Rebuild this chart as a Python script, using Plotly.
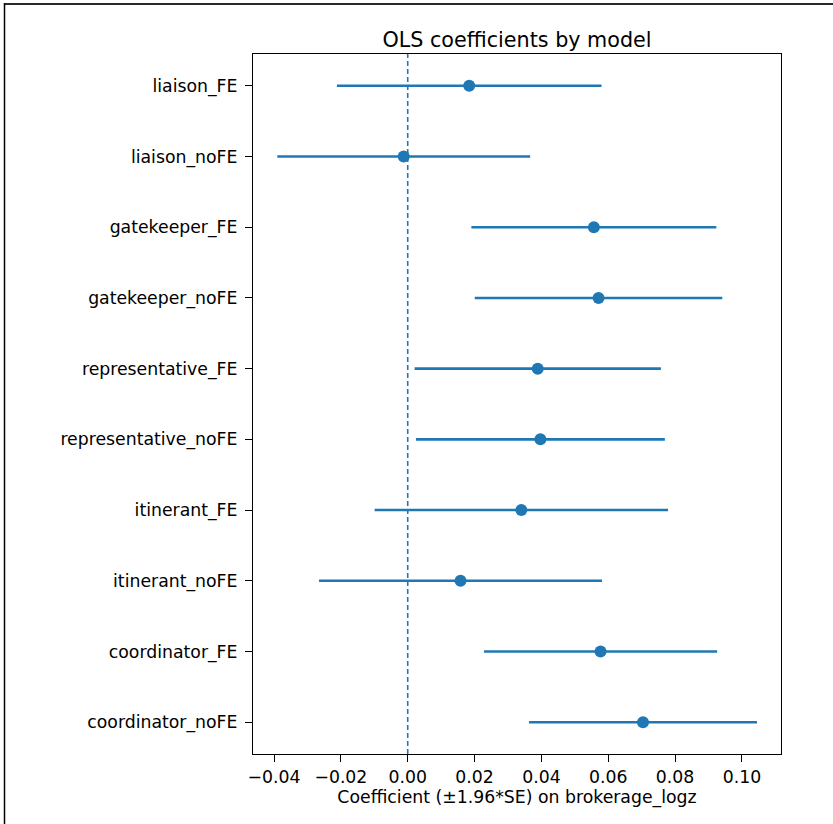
import plotly.graph_objects as go

# OLS coefficient estimates on brokerage_logz, one row per model (top to bottom)
models = [
    "liaison_FE", "liaison_noFE",
    "gatekeeper_FE", "gatekeeper_noFE",
    "representative_FE", "representative_noFE",
    "itinerant_FE", "itinerant_noFE",
    "coordinator_FE", "coordinator_noFE",
]
coef = [0.0184, -0.0012, 0.0557, 0.0571, 0.0389, 0.0397, 0.0340, 0.0158, 0.0577, 0.0704]
se = [0.0202, 0.0193, 0.0187, 0.0189, 0.0188, 0.0190, 0.0224, 0.0216, 0.0178, 0.0174]
z_crit = 1.96
ref_x = 0.0

x_ticks = [-0.04, -0.02, 0.00, 0.02, 0.04, 0.06, 0.08, 0.10]
x_tick_text = ["\u22120.04", "\u22120.02", "0.00", "0.02", "0.04", "0.06", "0.08", "0.10"]

ci = [z_crit * s for s in se]

BLUE = "#1f77b4"
FONT = "DejaVu Sans"
TICK_SIZE = 17.3

W, H = 833, 824
L, R, T, B = 253, 52, 54, 70
pw, ph = W - L - R, H - T - B


def px_x(px):
    return (px - L) / pw


def px_y(py):
    return (H - B - py) / ph


fig = go.Figure()

fig.add_trace(go.Scatter(
    x=coef,
    y=models,
    mode="markers",
    marker=dict(color=BLUE, size=12, line=dict(width=0)),
    error_x=dict(type="data", array=ci, symmetric=True,
                 color=BLUE, thickness=2.6, width=0),
    showlegend=False,
    hoverinfo="x+y",
))

# vertical reference line at zero
fig.add_shape(type="line", xref="x", yref="paper",
              x0=ref_x, x1=ref_x, y0=0, y1=1,
              line=dict(color=BLUE, width=1.6, dash="5px,3px"), layer="above")

# frame lines along the top and left edge of the page
fig.add_shape(type="line", xref="paper", yref="paper",
              x0=px_x(4), x1=px_x(W + 2), y0=px_y(4), y1=px_y(4),
              line=dict(color="#2a2a2a", width=1.8))
fig.add_shape(type="line", xref="paper", yref="paper",
              x0=px_x(4.5), x1=px_x(4.5), y0=px_y(3.2), y1=px_y(H + 2),
              line=dict(color="black", width=1.5))

fig.update_layout(
    width=W, height=H,
    margin=dict(l=L, r=R, t=T, b=B, autoexpand=False),
    paper_bgcolor="white",
    plot_bgcolor="white",
    font=dict(family=FONT, color="black", size=TICK_SIZE),
    title=dict(text="OLS coefficients by model", x=(L + pw / 2) / W, xref="container",
               y=(H - 40) / H, yref="container", xanchor="center", yanchor="middle",
               font=dict(family=FONT, size=20.7, color="black")),
    xaxis=dict(
        range=[-0.0463, 0.1117],
        tickvals=x_ticks, ticktext=x_tick_text,
        ticks="outside", ticklen=7, tickwidth=1.1, tickcolor="black",
        showline=True, linecolor="black", linewidth=1.1, mirror=True,
        showgrid=False, zeroline=False,
        tickfont=dict(family=FONT, size=TICK_SIZE, color="black"),
        title=dict(text="Coefficient (\u00b11.96*SE) on brokerage_logz",
                   font=dict(family=FONT, size=TICK_SIZE, color="black"), standoff=4),
    ),
    yaxis=dict(
        type="category",
        categoryorder="array", categoryarray=models,
        range=[len(models) - 1 + 0.45, -0.45],
        ticks="outside", ticklen=7, tickwidth=1.1, tickcolor="black",
        showline=True, linecolor="black", linewidth=1.1, mirror=True,
        showgrid=False, zeroline=False,
        tickfont=dict(family=FONT, size=TICK_SIZE, color="black"),
        ticklabelstandoff=4,
    ),
)

fig.write_html("out.html")
